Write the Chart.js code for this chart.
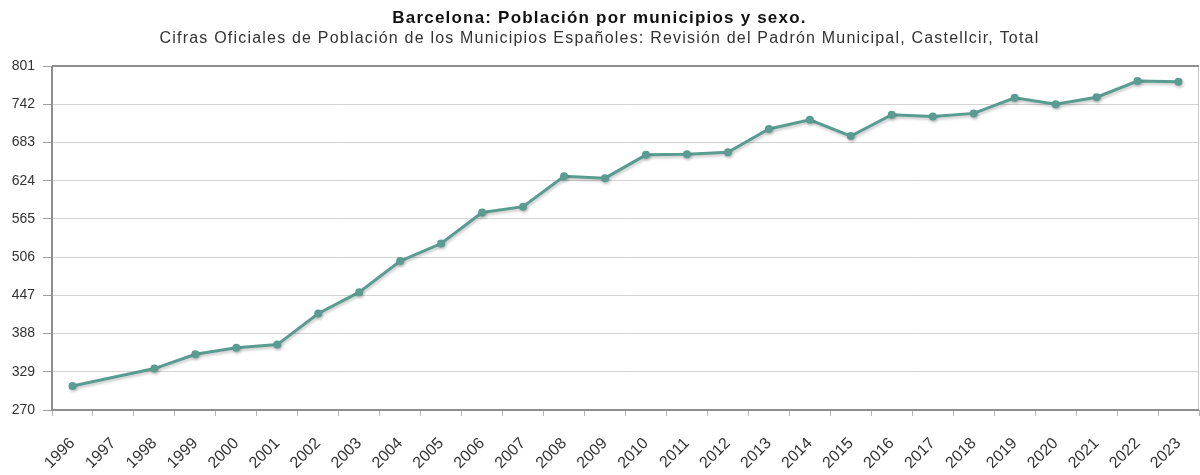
<!DOCTYPE html>
<html>
<head>
<meta charset="utf-8">
<script src="https://cdn.jsdelivr.net/npm/chart.js@4.4.1/dist/chart.umd.min.js"></script>
<style>
  html, body { margin: 0; padding: 0; background: #fff; }
  #wrap { width: 1200px; height: 475px; position: relative; }
</style>
</head>
<body>
<div id="wrap"><canvas id="c" width="1200" height="475"></canvas></div>
<script>
const years = ["1996","1997","1998","1999","2000","2001","2002","2003","2004","2005","2006","2007","2008","2009","2010","2011","2012","2013","2014","2015","2016","2017","2018","2019","2020","2021","2022","2023"];
const totals = [307, null, 334, 356, 366, 371, 419, 452, 500, 527, 575, 584, 631, 628, 664, 665, 668, 704, 718, 693, 726, 723, 728, 752, 742, 753, 778, 777];
const yTicks = [270, 329, 388, 447, 506, 565, 624, 683, 742, 801];
const titleText = "Barcelona: Población por municipios y sexo.";
const subtitleText = "Cifras Oficiales de Población de los Municipios Españoles: Revisión del Padrón Municipal, Castellcir, Total";

const FONT = "'Liberation Sans', Arial, Helvetica, sans-serif";
const lineColor = "#5a9c92";

const shadowPlugin = {
  id: 'lineShadow',
  beforeDatasetDraw(chart) {
    const ctx = chart.ctx;
    ctx.save();
    ctx.shadowColor = 'rgba(0,0,0,0.22)';
    ctx.shadowBlur = 3;
    ctx.shadowOffsetX = 1;
    ctx.shadowOffsetY = 2;
  },
  afterDatasetDraw(chart) {
    chart.ctx.restore();
  }
};

const framePlugin = {
  id: 'plotFrame',
  afterDraw(chart) {
    const a = chart.chartArea, ctx = chart.ctx;
    ctx.save();
    ctx.lineWidth = 1;
    ctx.strokeStyle = '#c8c8c8';
    ctx.beginPath();
    ctx.moveTo(a.right - 0.5, a.top);
    ctx.lineTo(a.right - 0.5, a.bottom);
    ctx.stroke();
    ctx.lineWidth = 2;
    ctx.strokeStyle = '#8e8e8e';
    ctx.beginPath();
    ctx.moveTo(a.left, a.top);
    ctx.lineTo(a.right, a.top);
    ctx.moveTo(a.left, a.top);
    ctx.lineTo(a.left, a.bottom);
    ctx.lineTo(a.right, a.bottom);
    ctx.stroke();
    ctx.restore();
  }
};

const chart = new Chart(document.getElementById('c'), {
  type: 'line',
  data: {
    labels: years,
    datasets: [{
      label: 'Total',
      data: totals,
      borderColor: lineColor,
      backgroundColor: lineColor,
      borderWidth: 3,
      pointRadius: 4,
      pointBorderWidth: 0,
      pointBackgroundColor: lineColor,
      spanGaps: true,
      tension: 0
    }]
  },
  options: {
    responsive: false,
    animation: false,
    layout: { autoPadding: false, padding: { left: 0, right: 1, top: 0, bottom: 0 } },
    plugins: {
      legend: { display: false },
      tooltip: { enabled: false },
      title: {
        display: true,
        text: titleText,
        color: '#111',
        font: { family: FONT, size: 17, weight: 'bold' },
        padding: { top: 8, bottom: 0.5 }
      },
      subtitle: {
        display: true,
        text: subtitleText,
        color: '#333',
        font: { family: FONT, size: 16 },
        padding: { top: 0, bottom: 18 }
      }
    },
    scales: {
      x: {
        type: 'category',
        offset: true,
        grid: {
          offset: true,
          drawOnChartArea: false,
          drawTicks: true,
          tickLength: 6,
          color: '#b5b5b5'
        },
        border: { display: false },
        ticks: {
          autoSkip: false,
          maxRotation: 45,
          minRotation: 45,
          padding: 18,
          color: '#333',
          font: { family: FONT, size: 16 }
        },
        afterFit(scale) {
          scale.height = 65;
          scale.paddingLeft = 0;
          scale.paddingRight = 0;
        }
      },
      y: {
        min: 270,
        max: 801,
        afterBuildTicks(scale) { scale.ticks = yTicks.map(v => ({ value: v })); },
        grid: {
          color: '#d3d3d3',
          lineWidth: 1,
          drawTicks: true,
          tickLength: 9,
          tickColor: '#a0a0a0'
        },
        border: { display: false },
        ticks: {
          padding: 8,
          color: '#333',
          font: { family: FONT, size: 14 }
        },
        afterFit(scale) { scale.width = 52; }
      }
    }
  },
  plugins: [shadowPlugin, framePlugin]
});

// slightly widened lettering for the title block, as in the original
chart.boxes.forEach(b => {
  if (!b.options) return;
  let ls = null;
  if (b.options.text === titleText) ls = '1.2px';
  if (b.options.text === subtitleText) ls = '1.2px';
  if (!ls) return;
  const orig = b.draw.bind(b);
  b.draw = function (area) {
    const ctx = this.ctx;
    const prev = ctx.letterSpacing;
    ctx.letterSpacing = ls;
    orig(area);
    ctx.letterSpacing = prev || '0px';
  };
});
chart.draw();
</script>
</body>
</html>
